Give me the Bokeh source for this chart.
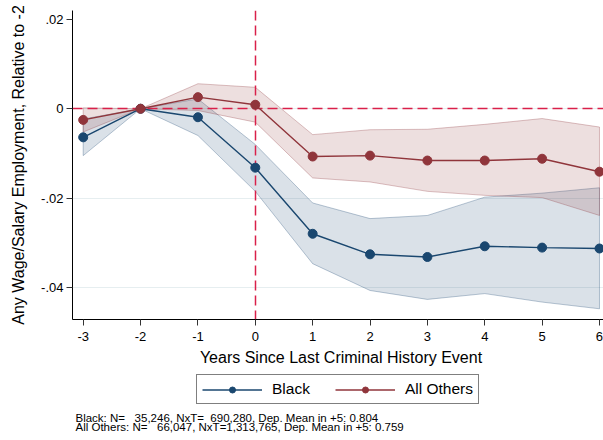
from bokeh.plotting import figure
from bokeh.layouts import column
from bokeh.models import Range1d, FixedTicker, Legend, LegendItem, Label
from bokeh.embed import file_html
from bokeh.resources import INLINE

# years relative to the last criminal history event
years = [-3, -2, -1, 0, 1, 2, 3, 4, 5, 6]

black_coef = [-0.0064, 0.0, -0.0019, -0.0132, -0.0280, -0.0326, -0.0332, -0.0308, -0.0311, -0.0313]
black_lo = [-0.0105, 0.0, -0.0060, -0.0185, -0.0347, -0.0407, -0.0427, -0.0414, -0.0433, -0.0448]
black_hi = [-0.0023, 0.0, 0.0022, -0.0080, -0.0211, -0.0246, -0.0239, -0.0198, -0.0189, -0.0177]

others_coef = [-0.0025, 0.0, 0.0026, 0.0009, -0.0107, -0.0105, -0.0116, -0.0116, -0.0112, -0.0141]
others_lo = [-0.0052, 0.0, -0.0004, -0.0030, -0.0155, -0.0164, -0.0185, -0.0194, -0.0199, -0.0239]
others_hi = [0.0002, 0.0, 0.0056, 0.0048, -0.0058, -0.0047, -0.0046, -0.0035, -0.0022, -0.0041]

y_ticks = [0.02, 0.0, -0.02, -0.04]
y_tick_labels = [".02", "0", "-.02", "-.04"]
grid_levels = [0.0, -0.02, -0.04]
event_year = 0
baseline_level = 0

series_names = ["Black", "All Others"]
notes = [
    "Black: N=\u00a0\u00a0 35,246, NxT=\u00a0 690,280, Dep. Mean in +5: 0.804",
    "All Others: N=\u00a0\u00a0 66,047, NxT=1,313,765, Dep. Mean in +5: 0.759",
]

NAVY = "#1a476f"
MAROON = "#90353b"
REFLINE = "#d9204a"
FONT = "Liberation Sans"
nan = float("nan")

# main panel
p = figure(width=603, height=347, x_range=Range1d(-3.1865, 6.07), y_range=Range1d(-0.0472, 0.022),
           output_backend="svg", toolbar_location=None,
           min_border_left=72, min_border_right=0, min_border_top=10, min_border_bottom=28)
p.outline_line_color = None
p.background_fill_color = "white"
p.border_fill_color = "white"

p.xgrid.visible = False
p.ygrid.ticker = FixedTicker(ticks=grid_levels)
p.ygrid.grid_line_color = "#e6eef0"
p.ygrid.grid_line_width = 1

p.xaxis.ticker = FixedTicker(ticks=years)
p.xaxis.major_label_overrides = {yr: str(yr) for yr in years}
p.yaxis.ticker = FixedTicker(ticks=y_ticks)
p.yaxis.major_label_overrides = dict(zip(y_ticks, y_tick_labels))
p.axis.minor_tick_line_color = None
p.axis.major_tick_in = 0
p.axis.major_tick_out = 6
p.axis.major_tick_line_color = "#333333"
p.axis.axis_line_color = "black"
p.axis.major_label_text_font = FONT
p.axis.major_label_text_font_size = "13px"
p.axis.major_label_text_color = "black"
p.xaxis.major_label_standoff = 6
p.yaxis.major_label_standoff = 3

p.yaxis.axis_label = "Any Wage/Salary Employment, Relative to -2"
p.yaxis.axis_label_text_font = FONT
p.yaxis.axis_label_text_font_size = "16px"
p.yaxis.axis_label_text_font_style = "normal"
p.yaxis.axis_label_text_color = "black"
p.yaxis.axis_label_standoff = 11

# confidence bands
p.patch(years + years[::-1], black_lo + black_hi[::-1], fill_color=NAVY, fill_alpha=0.16,
        line_color=NAVY, line_alpha=0.3, line_width=1)
p.patch(years + years[::-1], others_lo + others_hi[::-1], fill_color=MAROON, fill_alpha=0.16,
        line_color=MAROON, line_alpha=0.3, line_width=1)

# reference lines
p.hspan(y=[baseline_level], line_color=REFLINE, line_dash="10 5", line_width=1.5)
p.vspan(x=[event_year], line_color=REFLINE, line_dash="10 5", line_width=1.5)

p.line(years, black_coef, line_color=NAVY, line_width=1.4)
p.scatter(years, black_coef, size=9, fill_color=NAVY, line_color=NAVY)
p.line(years, others_coef, line_color=MAROON, line_width=1.4)
p.scatter(years, others_coef, size=9, fill_color=MAROON, line_color=MAROON)

# bottom panel: axis title, legend, notes (its frame is aligned with the one above)
q = figure(width=603, height=93, x_range=Range1d(0, 603), y_range=Range1d(0, 93),
           output_backend="svg", toolbar_location=None, x_axis_location=None, y_axis_location=None,
           min_border=0, min_border_left=0, min_border_right=0, min_border_top=0, min_border_bottom=0)
q.outline_line_color = None
q.grid.visible = False
left_off = 72

q.add_layout(Label(x=340.5 - left_off, y=83, x_units="screen", y_units="screen",
                   text="Years Since Last Criminal History Event", text_align="center",
                   text_baseline="alphabetic", text_font=FONT, text_font_size="16px",
                   text_color="black"))

# legend proxies (nothing to draw in the panel itself)
kb_line = q.line([nan], [nan], line_color=NAVY, line_width=1.4)
kb_dot = q.scatter([nan], [nan], fill_color=NAVY, line_color=NAVY)
ko_line = q.line([nan], [nan], line_color=MAROON, line_width=1.4)
ko_dot = q.scatter([nan], [nan], fill_color=MAROON, line_color=MAROON)

legend = Legend(items=[LegendItem(label=series_names[0], renderers=[kb_line, kb_dot]),
                       LegendItem(label=series_names[1], renderers=[ko_line, ko_dot])],
                location=(196 - left_off, 36), orientation="horizontal", glyph_width=60,
                glyph_height=15, label_height=15, label_standoff=10, spacing=25, padding=5,
                margin=0, border_line_color="black", border_line_width=1,
                background_fill_color="white", background_fill_alpha=1, label_text_font=FONT,
                label_text_font_size="15.5px", label_text_color="black")
q.add_layout(legend, "center")

for i, note in enumerate(notes):
    q.add_layout(Label(x=75 - left_off, y=23 - 9 * i, x_units="screen", y_units="screen",
                       text=note, text_align="left", text_baseline="alphabetic", text_font=FONT,
                       text_font_size="11.5px", text_color="black"))

open("out.html", "w").write(file_html(column(p, q), INLINE))
